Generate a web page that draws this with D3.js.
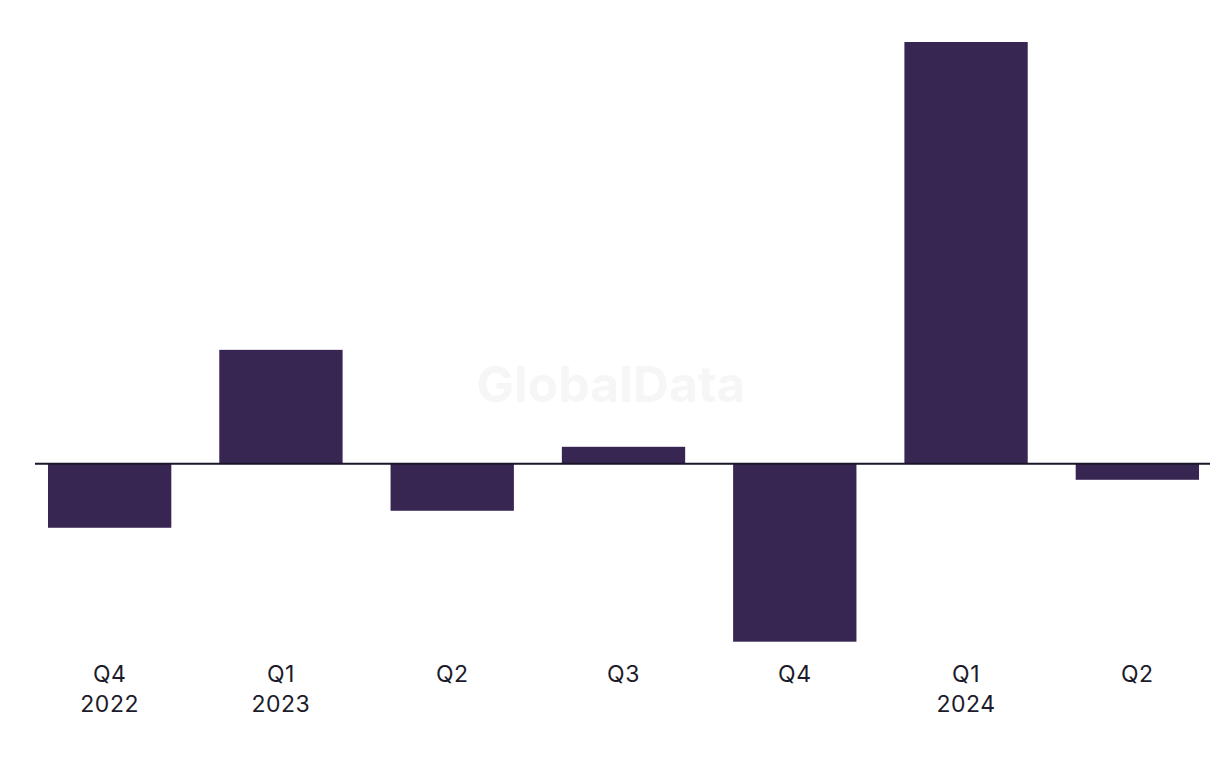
<!DOCTYPE html>
<html>
<head>
<meta charset="utf-8">
<script src="https://cdn.jsdelivr.net/npm/d3@7"></script>
<style>
  html, body { margin: 0; padding: 0; background: #ffffff; }
  svg { display: block; }
</style>
</head>
<body>
<svg id="chart" width="1220" height="768"></svg>
<script>
// Data
const quarters = ["Q4", "Q1", "Q2", "Q3", "Q4", "Q1", "Q2"];
const years = ["2022", "2023", "", "", "", "2024", ""];
const values = [-6.4, 11.4, -4.7, 1.7, -17.8, 42.2, -1.6];

const W = 1220, H = 768;
const svg = d3.select("#chart");

const keys = quarters.map((q, i) => i);
const x = d3.scaleBand()
  .domain(keys)
  .range([36, 1211])
  .paddingInner(0.28)
  .paddingOuter(0.07);

const y = d3.scaleLinear()
  .domain([d3.min(values), d3.max(values)])
  .range([641.7, 42]);

// Watermark
svg.append("text")
  .attr("x", 611)
  .attr("y", 402)
  .attr("text-anchor", "middle")
  .attr("font-family", "Inter, 'Liberation Sans', sans-serif")
  .attr("font-weight", 700)
  .attr("font-size", 50)
  .attr("fill", "#f6f6f6")
  .text("GlobalData");

// Bars
svg.append("g").selectAll("rect")
  .data(values)
  .join("rect")
  .attr("x", (d, i) => x(i))
  .attr("width", x.bandwidth())
  .attr("y", d => Math.min(y(d), y(0)))
  .attr("height", d => Math.abs(y(d) - y(0)))
  .attr("fill", "#372552");

// Zero line
svg.append("line")
  .attr("x1", 35).attr("x2", 1210)
  .attr("y1", y(0)).attr("y2", y(0))
  .attr("stroke", "#1a1628")
  .attr("stroke-width", 2);

// Category labels
const labels = svg.append("g")
  .attr("font-family", "Inter, 'Liberation Sans', sans-serif")
  .attr("font-size", 23)
  .attr("letter-spacing", "0.5px")
  .attr("fill", "#1c1b2b")
  .attr("text-anchor", "middle");

labels.selectAll("text.q")
  .data(quarters)
  .join("text")
  .attr("class", "q")
  .attr("x", (d, i) => x(i) + x.bandwidth() / 2)
  .attr("y", 682)
  .text(d => d);

labels.selectAll("text.yr")
  .data(years)
  .join("text")
  .attr("class", "yr")
  .attr("x", (d, i) => x(i) + x.bandwidth() / 2)
  .attr("y", 712)
  .text(d => d);
</script>
</body>
</html>
